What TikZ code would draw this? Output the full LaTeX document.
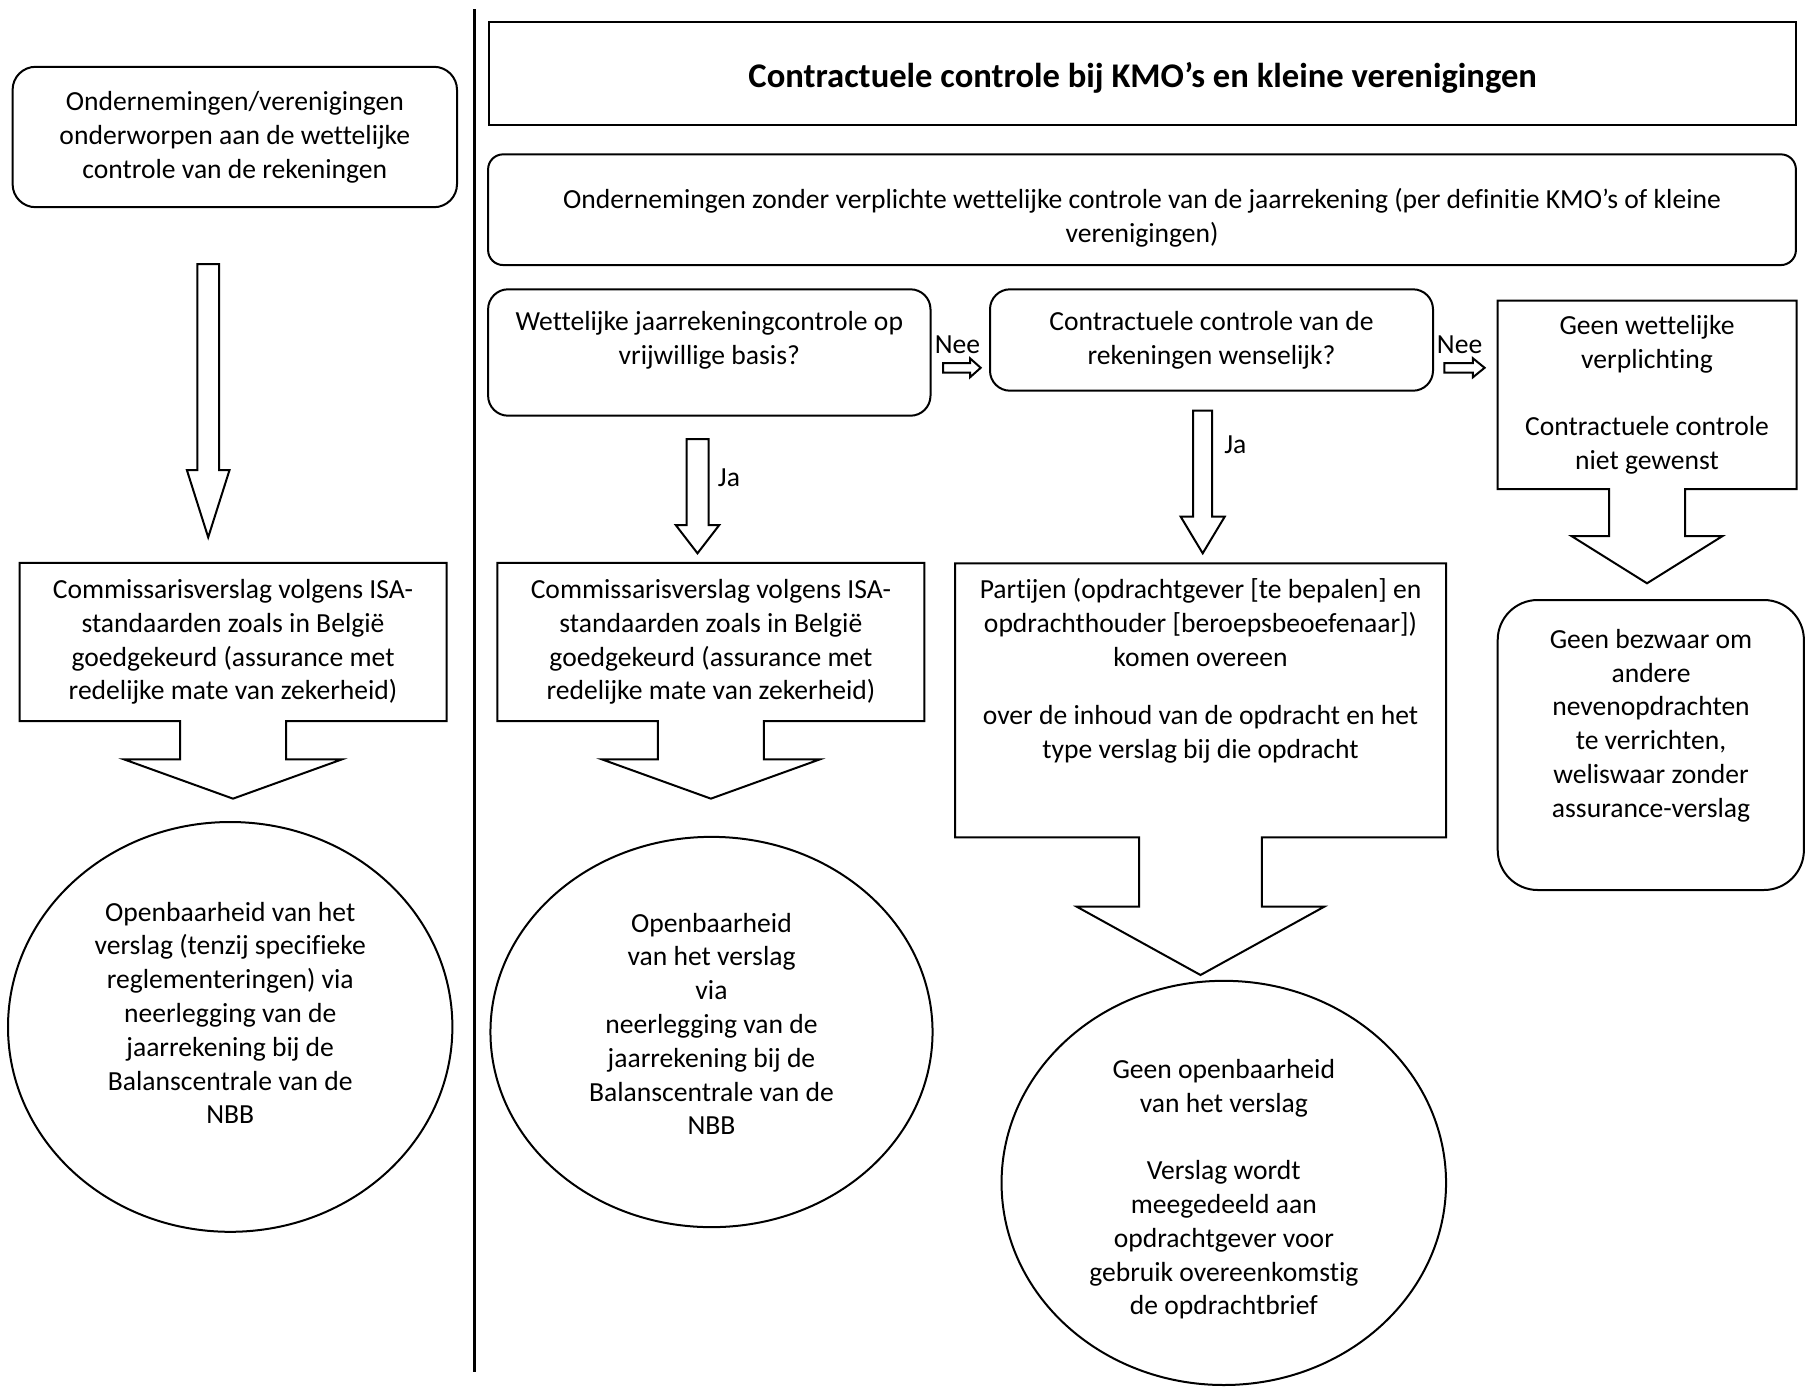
\documentclass[tikz,border=0pt]{standalone}
\usepackage{fontspec}
\setmainfont[RawFeature={-liga;-clig;-calt;-dlig}]{Carlito}
\usepackage{tikz}
\usetikzlibrary{calc}
\usetikzlibrary{shapes.geometric}

% hollow block arrows: start, tip, shaft half width, head half width, head length
\newcommand{\arrowdown}[5]{%
  \draw let \p1=(#1), \p2=(#2) in
    (\x1-#3,\y1) -- (\x1+#3,\y1) -- (\x1+#3,\y2+#5) -- (\x1+#4,\y2+#5)
    -- (\x1,\y2) -- (\x1-#4,\y2+#5) -- (\x1-#3,\y2+#5) -- cycle;}
\newcommand{\arrowright}[5]{%
  \draw let \p1=(#1), \p2=(#2) in
    (\x1,\y1+#3) -- (\x2-#5,\y1+#3) -- (\x2-#5,\y1+#4) -- (\x2,\y1)
    -- (\x2-#5,\y1-#4) -- (\x2-#5,\y1-#3) -- (\x1,\y1-#3) -- cycle;}
% box with an arrow under it: node, shaft half, shaft length, head half, head length
\newcommand{\callout}[5]{%
  \draw (#1.north west) -- (#1.north east) -- (#1.south east)
    -- ($(#1.south)+(#2,0)$) -- ++(0,#3) -- ($(#1.south)+(#4,#3)$)
    -- ($(#1.south)+(0,#3+#5)$) -- ($(#1.south)+(-#4,#3)$)
    -- ($(#1.south)+(-#2,#3)$) -- ++(0,-#3) -- (#1.south west) -- cycle;}

\begin{document}
\begin{tikzpicture}[x=0.5pt,y=-0.5pt,line width=1pt,font=\fontsize{13.8}{16.9}\selectfont,
  plain node/.style={inner sep=0pt,outer sep=0pt,align=center},
  box node/.style={plain node,draw,rectangle},
  round node/.style={box node,rounded corners=10pt},
  oval node/.style={plain node,draw,ellipse}]

  \useasboundingbox (0,0) rectangle (1805,1387);

  % left column
  \coordinate (lineTop) at (474.3,9.2);
  \coordinate (lineEnd) at (474.3,1372);
  \draw[line width=1.5pt] (lineTop) -- (lineEnd);

  \node[round node,rounded corners=11.5pt,minimum width=222.2pt,minimum height=70.2pt] (onder) at (234.8,137)
    {Ondernemingen/verenigingen\\onderworpen aan de wettelijke\\controle van de rekeningen};

  \coordinate (onderStart) at (208.2,264);
  \coordinate (onderTip) at (208.2,537.3);
  \arrowdown{onderStart}{onderTip}{5.4pt}{10.65pt}{33.6pt}

  \node[plain node,minimum width=213.5pt,minimum height=79.15pt] (commL) at (233,641.9)
    {Commissarisverslag volgens ISA-\\standaarden zoals in België\\goedgekeurd (assurance met\\redelijke mate van zekerheid)};
  \callout{commL}{53}{38.3}{109}{39.3}

  \node[oval node,minimum width=222.2pt,minimum height=204.9pt] (openL) at (230.2,1026.9) {};
  \node[plain node] (openLtext) at (230.2,1013)
    {Openbaarheid van het\\verslag (tenzij specifieke\\reglementeringen) via\\neerlegging van de\\jaarrekening bij de\\Balanscentrale van de\\NBB};

  % right part
  \node[box node,minimum width=653.3pt,minimum height=51.65pt] (titel) at (1142.6,73.3) {};
  \node[plain node,font=\fontsize{17.3}{21}\selectfont\bfseries] (titeltext) at (1142.7,78.3)
    {Contractuele controle bij KMO’s en kleine verenigingen};

  \node[round node,rounded corners=7.5pt,minimum width=653.9pt,minimum height=55.35pt] (zonder) at (1142,209.7) {};
  \node[plain node] (zondertext) at (1142,217.5)
    {Ondernemingen zonder verplichte wettelijke controle van de jaarrekening (per definitie KMO’s of kleine\\verenigingen)};

  \node[round node,minimum width=221.2pt,minimum height=63.2pt] (vrijw) at (709.3,352.5) {};
  \node[plain node] (vrijwtext) at (709.3,340)
    {Wettelijke jaarrekeningcontrole op\\vrijwillige basis?};

  \node[round node,minimum width=221.5pt,minimum height=50.7pt] (wens) at (1211.5,340)
    {Contractuele controle van de\\rekeningen wenselijk?};

  \coordinate (nee1Start) at (943.2,367.8);
  \coordinate (nee1Tip) at (980.7,367.8);
  \arrowright{nee1Start}{nee1Tip}{2.35pt}{4.75pt}{5.35pt}
  \node[plain node] (nee1) at (957.5,345) {Nee};

  \coordinate (nee2Start) at (1444.3,367.8);
  \coordinate (nee2Tip) at (1484.6,367.8);
  \arrowright{nee2Start}{nee2Tip}{2.35pt}{4.75pt}{5.85pt}
  \node[plain node] (nee2) at (1459.6,345) {Nee};

  \node[plain node,minimum width=149.5pt,minimum height=94.25pt] (geen) at (1647,394.75)
    {Geen wettelijke\\verplichting\\[16.9pt]Contractuele controle\\niet gewenst};
  \callout{geen}{38}{47}{75.6}{47.3}

  \node[round node,rounded corners=20pt,minimum width=153.1pt,minimum height=145pt] (bezwaar) at (1650.8,745) {};
  \node[plain node] (bezwaartext) at (1651,725.6)
    {Geen bezwaar om\\andere\\nevenopdrachten\\te verrichten,\\weliswaar zonder\\assurance-verslag};

  \coordinate (ja1Start) at (697.5,439);
  \coordinate (ja1Tip) at (697.5,553.3);
  \arrowdown{ja1Start}{ja1Tip}{5.5pt}{10.9pt}{14.15pt}
  \node[plain node] (ja1) at (729,478) {Ja};

  \coordinate (ja2Start) at (1202.7,410.7);
  \coordinate (ja2Tip) at (1202.7,553.3);
  \arrowdown{ja2Start}{ja2Tip}{4.75pt}{11pt}{18.3pt}
  \node[plain node] (ja2) at (1235.3,445) {Ja};

  \node[plain node,minimum width=213.5pt,minimum height=79.15pt] (commM) at (710.9,641.9)
    {Commissarisverslag volgens ISA-\\standaarden zoals in België\\goedgekeurd (assurance met\\redelijke mate van zekerheid)};
  \callout{commM}{53}{38.3}{109}{39.3}

  \node[plain node,minimum width=245.5pt,minimum height=137pt] (partijen) at (1200.5,700.3) {};
  \node[plain node] (partijentext) at (1200.5,670.8)
    {Partijen (opdrachtgever [te bepalen] en\\opdrachthouder [beroepsbeoefenaar])\\komen overeen\\[12.5pt]over de inhoud van de opdracht en het\\type verslag bij die opdracht};
  \callout{partijen}{61.3}{69.4}{123.7}{68.3}

  \node[oval node,minimum width=221.05pt,minimum height=195.15pt] (openM) at (711.5,1032) {};
  \node[plain node] (openMtext) at (711.5,1024)
    {Openbaarheid\\van het verslag\\via\\neerlegging van de\\jaarrekening bij de\\Balanscentrale van de\\NBB};

  \node[oval node,minimum width=222.25pt,minimum height=202.1pt] (geenopen) at (1223.8,1182.9) {};
  \node[plain node] (geenopentext) at (1223.8,1189.2)
    {Geen openbaarheid\\van het verslag\\[16.9pt]Verslag wordt\\meegedeeld aan\\opdrachtgever voor\\gebruik overeenkomstig\\de opdrachtbrief};

\end{tikzpicture}
\end{document}
